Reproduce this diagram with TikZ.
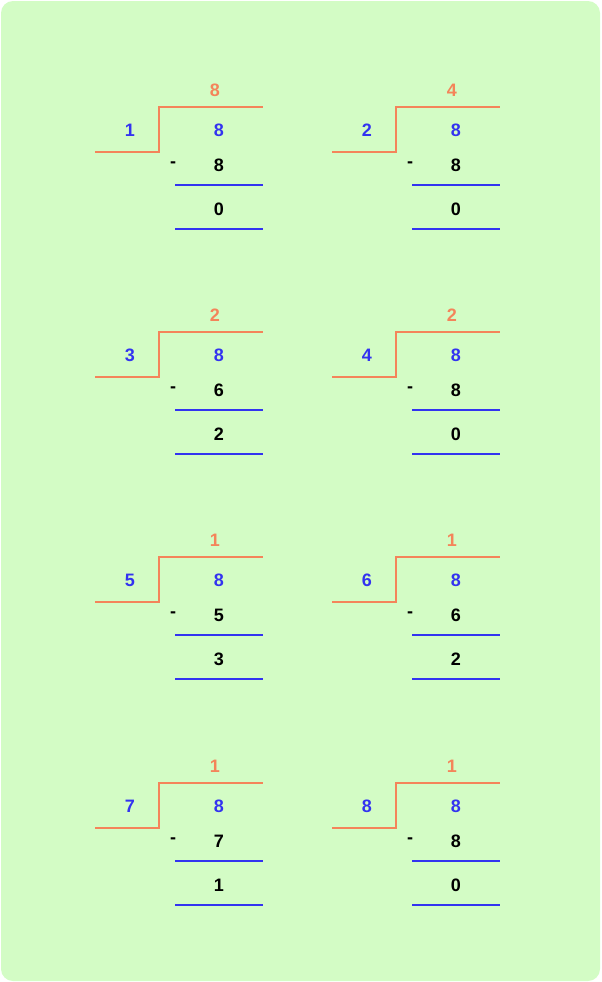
\documentclass[tikz,border=0pt]{standalone}
\usepackage{fontspec}
\setmainfont{Liberation Sans}
\definecolor{bgfill}{HTML}{D3FCC5}
\definecolor{quotcol}{HTML}{F4845A}
\definecolor{divcol}{HTML}{3333F0}
\tikzset{
  digit/.style={font=\bfseries\fontsize{13.5}{15}\selectfont},
  bracket/.style={quotcol, line width=1.1pt},
  rule/.style={divcol, line width=1.1pt}
}
% one division block: x, y, divisor, quotient, subtrahend, remainder
\newcommand{\divblock}[6]{
  \begin{scope}[shift={(#1,#2)}]
    \node[digit, quotcol] (q#3) at (120,0) {#4};
    \node[digit, divcol] (d#3) at (35,40) {#3};
    \node[digit, divcol] (n#3) at (124,40) {8};
    \node[digit] (m#3) at (78,75) {-};
    \node[digit] (s#3) at (124,75) {#5};
    \node[digit] (r#3) at (124,119) {#6};
    \draw[bracket] (0,62) -- (64,62) -- (64,17) -- (168,17);
    \draw[rule] (80,95) -- (168,95);
    \draw[rule] (80,139) -- (168,139);
  \end{scope}
}
\begin{document}
\begin{tikzpicture}[x=0.75pt,y=-0.75pt]
  \useasboundingbox (0,0) rectangle (601,982);
  \fill[bgfill, rounded corners=9pt] (1,1) rectangle (600,981);
  % blocks: divisor / quotient / subtrahend / remainder
  \divblock{95}{90}{1}{8}{8}{0}
  \divblock{332}{90}{2}{4}{8}{0}
  \divblock{95}{315}{3}{2}{6}{2}
  \divblock{332}{315}{4}{2}{8}{0}
  \divblock{95}{540}{5}{1}{5}{3}
  \divblock{332}{540}{6}{1}{6}{2}
  \divblock{95}{766}{7}{1}{7}{1}
  \divblock{332}{766}{8}{1}{8}{0}
\end{tikzpicture}
\end{document}
